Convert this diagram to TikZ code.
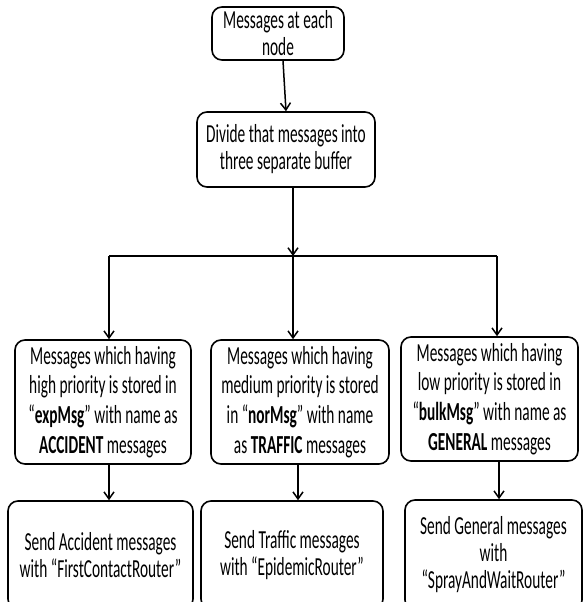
\documentclass[tikz,border=0pt]{standalone}
\usepackage{fontspec}
\setmainfont{Carlito}[FakeStretch=0.59]
\usetikzlibrary{arrows.meta}
\begin{document}
\begin{tikzpicture}[x=1pt,y=-1pt,
  box/.style={draw,line width=1.6pt,rounded corners=10pt,align=center,
    font=\fontsize{26}{27}\selectfont,inner sep=0pt},
  tallbox/.style={box,font=\fontsize{26}{29.6}\selectfont},
  arr/.style={line width=1.5pt,-{Straight Barb[length=7pt,width=10pt,line width=1.5pt]}},
  barline/.style={line width=2.6pt}]
\useasboundingbox (0,0) rectangle (583,602);
\clip (0,0) rectangle (583,602);
\fill[white] (0,0) rectangle (583,602);

\node[box,minimum width=132pt,minimum height=53pt] (top) at (278,33.5) {Messages at each\\node};
\node[box,minimum width=178pt,minimum height=75pt] (div) at (286,149.5) {Divide that messages into\\three separate buffer};

\node[tallbox,minimum width=176pt,minimum height=124pt] (a) at (103,402)
  {Messages which having\\high priority is stored in\\“\textbf{expMsg}” with name as\\\textbf{ACCIDENT} messages};
\node[tallbox,minimum width=178pt,minimum height=124pt] (b) at (300,402)
  {Messages which having\\medium priority is stored\\in “\textbf{norMsg}” with name\\as \textbf{TRAFFIC} messages};
\node[tallbox,minimum width=177pt,minimum height=124pt] (c) at (489.5,399)
  {Messages which having\\low priority is stored in\\“\textbf{bulkMsg}” with name as\\\textbf{GENERAL} messages};

\node[box,minimum width=185pt,minimum height=108pt] (d) at (100.5,555) {Send Accident messages\\with “FirstContactRouter”};
\node[box,minimum width=182pt,minimum height=108pt] (e) at (292,555) {Send Traffic messages\\with “EpidemicRouter”};
\node[box,minimum width=177pt,minimum height=110pt] (f) at (493.5,555) {Send General messages\\with\\“SprayAndWaitRouter”};

\coordinate (bl) at (109,256);
\coordinate (j) at (293,256);
\coordinate (br) at (497,256);
\coordinate (t1) at ([xshift=5pt]top.south);
\coordinate (d1) at ([xshift=7pt]div.south);
\coordinate (a1) at ([xshift=6pt]a.south);
\coordinate (b1) at ([xshift=-2pt]b.south);
\coordinate (c1) at ([xshift=9.5pt]c.south);

\draw[arr] (t1) -- (div.north);
\draw[arr] (d1) -- (j);
\draw[barline] (bl) -- (br);
\draw[arr] (bl) -- (bl |- a.north);
\draw[arr] (j) -- (j |- b.north);
\draw[arr] (br) -- (br |- c.north);
\draw[arr] (a1) -- (a1 |- d.north);
\draw[arr] (b1) -- (b1 |- e.north);
\draw[arr] (c1) -- (c1 |- f.north);
\end{tikzpicture}
\end{document}
